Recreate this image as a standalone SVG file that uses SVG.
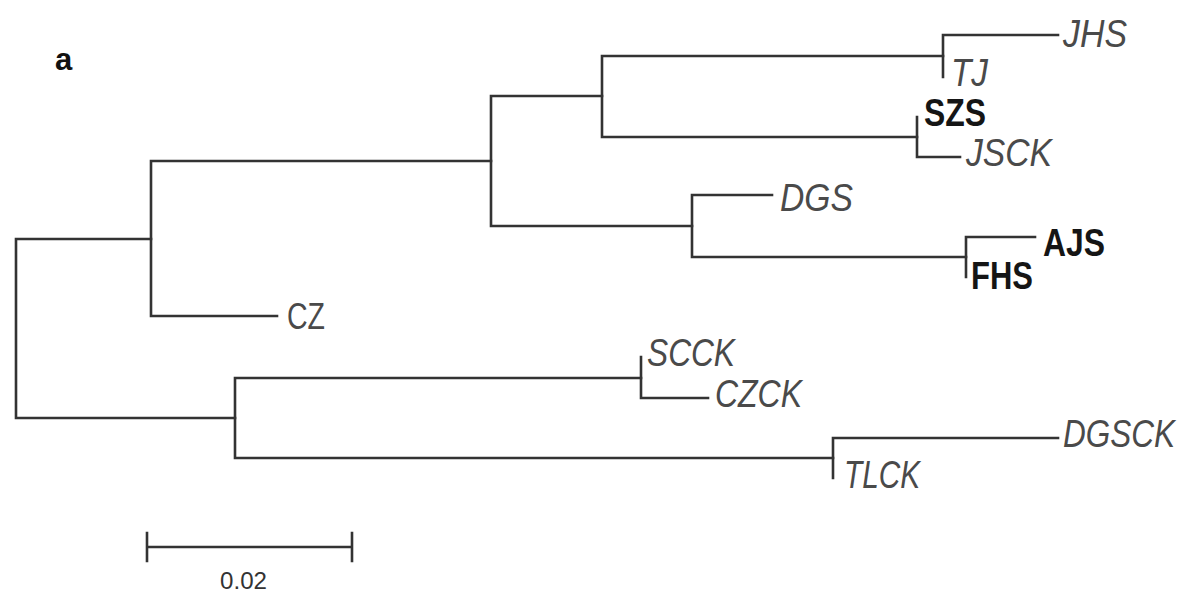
<svg xmlns="http://www.w3.org/2000/svg" width="1189" height="602" viewBox="0 0 1189 602">
<style>
.br{fill:none;stroke:#333333;stroke-width:2.6;stroke-linecap:square}
.lb{font-family:"Liberation Sans",Arial,sans-serif;font-size:38px;font-style:italic;fill:#4a4a4a}
.bd{font-family:"Liberation Sans",Arial,sans-serif;font-size:38px;font-weight:bold;fill:#151515}
.up{font-family:"Liberation Sans",Arial,sans-serif;font-size:36px;fill:#4a4a4a}
.pn{font-family:"Liberation Sans",Arial,sans-serif;font-size:31px;font-weight:bold;fill:#111111}
.sc{font-family:"Liberation Sans",Arial,sans-serif;font-size:24px;fill:#333333}
</style>
<rect width="1189" height="602" fill="#ffffff"/>
<text class="pn" x="55" y="70">a</text>
<g id="connectors">
<path class="br" d="M16 239 V418 M16 239 H151 M16 418 H235"/>
<path class="br" d="M151 161 V316 M151 316 H277 M151 161 H491"/>
<path class="br" d="M491 96 V226 M491 96 H602 M491 226 H692"/>
<path class="br" d="M602 56 V137 M602 56 H943 M602 137 H917"/>
<path class="br" d="M943 35 V77 M943 35 H1058"/>
<path class="br" d="M917 117 V157 M917 157 H960"/>
<path class="br" d="M692 195 V257 M692 195 H772 M692 257 H966"/>
<path class="br" d="M966 237 V277 M966 237 H1035"/>
<path class="br" d="M235 378 V458 M235 378 H641 M235 458 H833"/>
<path class="br" d="M641 357 V398 M641 398 H708"/>
<path class="br" d="M833 438 V478 M833 438 H1058"/>
</g>
<g id="JHS"><text class="lb" x="1063" y="47" textLength="64" lengthAdjust="spacingAndGlyphs">JHS</text></g>
<g id="TJ"><text class="lb" x="951" y="86" textLength="37" lengthAdjust="spacingAndGlyphs">TJ</text></g>
<g id="SZS"><text class="bd" x="924" y="126" textLength="62" lengthAdjust="spacingAndGlyphs">SZS</text></g>
<g id="JSCK"><text class="lb" x="966" y="166" textLength="86" lengthAdjust="spacingAndGlyphs">JSCK</text></g>
<g id="DGS"><text class="lb" x="780" y="211" textLength="73" lengthAdjust="spacingAndGlyphs">DGS</text></g>
<g id="AJS"><text class="bd" x="1043" y="256" textLength="62" lengthAdjust="spacingAndGlyphs">AJS</text></g>
<g id="FHS"><text class="bd" x="971" y="289" textLength="62" lengthAdjust="spacingAndGlyphs">FHS</text></g>
<g id="CZ"><text class="up" x="287" y="329" textLength="38" lengthAdjust="spacingAndGlyphs">CZ</text></g>
<g id="SCCK"><text class="lb" x="647" y="366" textLength="88" lengthAdjust="spacingAndGlyphs">SCCK</text></g>
<g id="CZCK"><text class="lb" x="715" y="407" textLength="87" lengthAdjust="spacingAndGlyphs">CZCK</text></g>
<g id="DGSCK"><text class="lb" transform="translate(1063 447) scale(0.83 1)" x="0" y="0">DGSCK</text></g>
<g id="TLCK"><text class="lb" x="844" y="488" textLength="76" lengthAdjust="spacingAndGlyphs">TLCK</text></g>
<g id="scale">
<path class="br" d="M147 547 H352 M147 533 V561 M352 533 V561"/>
<text class="sc" x="220" y="589" textLength="47" lengthAdjust="spacingAndGlyphs">0.02</text>
</g>
</svg>
